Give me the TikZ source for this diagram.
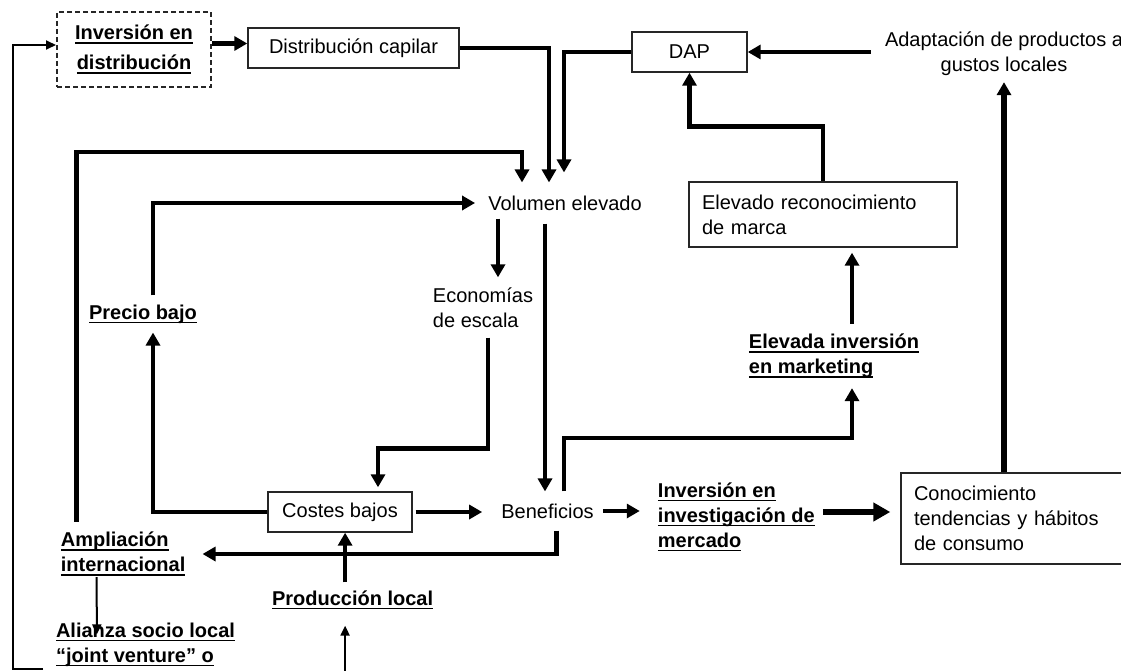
\documentclass[tikz,border=0pt]{standalone}
\usepackage{fontspec}
\setmainfont{Liberation Sans}
\usetikzlibrary{arrows.meta,calc}
% underline drawn as a rule just below the baseline
\newcommand\ulr[1]{\setbox0\hbox{#1}\rlap{\rule[-4.2pt]{\wd0}{1.8pt}}\box0}
\begin{document}
\begin{tikzpicture}[x=1pt,y=-1pt,
  every node/.style={font=\fontsize{20}{25}\selectfont, inner sep=0pt},
  bx/.style={draw=black!85, line width=1.4pt, inner sep=0pt},
  lbl/.style={align=left, font=\fontsize{20}{25}\selectfont\bfseries},
  arr/.style={line width=4.5pt, -{Triangle[length=13pt,width=14pt]}},
  thinarr/.style={line width=2pt, -{Triangle[length=10pt,width=9pt]}},
  bigarr/.style={line width=6.5pt, -{Triangle[length=17pt,width=18pt]}}]

\fill[white] (0,0) rectangle (1121,671);
\useasboundingbox (0,0) rectangle (1121,671);
\clip (0,0) rectangle (1121,671);

% ---- nodes ----
\node[bx, dash pattern=on 5pt off 3pt, line width=2pt, minimum width=154pt, minimum height=75pt,
      align=center, font=\fontsize{20}{25}\selectfont\bfseries] (invd) at (134,49.5)
      {\ulr{Inversión en}\\[5pt]\ulr{distribución}};
\node[bx, minimum width=211pt, minimum height=40pt] (dcap) at (353.5,48) {Distribución capilar};
\node[bx, minimum width=115pt, minimum height=40pt] (dap) at (689.5,52) {DAP};
\node[align=center, inner xsep=14pt, inner ysep=6pt] (adapt) at (1004,54)
      {Adaptación de productos a\\gustos locales};
\node[inner sep=13pt] (vol) at (565,203) {Volumen elevado};
\node[align=left, inner sep=10pt] (eco) at (483,307.5) {Economías\\de escala};
\node[bx, minimum width=144pt, minimum height=40pt] (cos) at (340,512) {Costes bajos};
\node[inner xsep=9pt, inner ysep=12pt] (ben) at (547.5,511) {Beneficios};
\node[lbl, inner xsep=8pt] (inv) at (736.3,517)
      {\ulr{Inversión en}\\\ulr{investigación de}\\\ulr{mercado}};
\node[bx, minimum width=234pt, minimum height=91pt, text width=208pt, align=left, inner xsep=13pt]
      (con) at (1018,518.5) {Conocimiento\\tendencias y hábitos\\de consumo};
\node[bx, minimum width=268pt, minimum height=65pt, text width=242pt, align=left, inner xsep=13pt]
      (elo) at (823,214.5) {Elevado reconocimiento\\de marca};
\node[lbl, inner ysep=10pt] (elv) at (834,356) {\ulr{Elevada inversión}\\\ulr{en marketing}};
\node[lbl, inner ysep=9pt] (prec) at (143,314) {\ulr{Precio bajo}};
\node[lbl, inner sep=10pt] (amp) at (123.1,554) {\ulr{Ampliación}\\\ulr{internacional}};
\node[lbl, inner ysep=8pt] (prod) at (352.6,600) {\ulr{Producción local}};
\node[lbl] (ali) at (145.5,644.5) {\ulr{Alianza socio local}\\\ulr{“joint venture” o}};

\coordinate (lbot) at (43,669);
\coordinate (pbot) at (345.1,680);

% ---- connectors ----
\draw[thinarr] (lbot) -- (13,669) |- ([yshift=4.5pt]invd.west);
\draw[arr] ([yshift=6pt]invd.east) -- ([yshift=6pt]invd.east -| dcap.west);
\draw[arr] (dcap.east) -| ([xshift=-16pt]vol.north);
\draw[arr] (dap.west) -| ([xshift=-1pt,yshift=10pt]vol.north);
\draw[arr] (adapt.west |- dap.east) -- (dap.east);
\draw[arr] (elo.north) -- ++(0,-55) -| (dap.south);
\draw[arr, shorten >=5pt] ([xshift=18pt]elv.north) -- ([xshift=18pt]elv.north |- elo.south);
\draw[arr] ([xshift=16.5pt]ben.north) |- ([xshift=18pt,yshift=-50pt]elv.south) -- ([xshift=18pt]elv.south);
\draw[arr, line width=5.5pt] (con.north -| adapt.south) -- (adapt.south);
\draw[bigarr, shorten >=10pt] ([yshift=5pt]inv.east) -- ([yshift=5pt]inv.east -| con.west);
\draw[arr, shorten >=10pt] (ben.east) -- (ben.east -| inv.west);
\draw[arr, shorten <=3pt, shorten >=10pt] (cos.east) -- (cos.east -| ben.west);
\draw[arr] ([xshift=-20pt]vol.south) -- ([xshift=-20pt]vol.south |- ben.north);
\draw[arr, shorten <=-5pt] ([xshift=15pt]eco.north |- vol.south) -- ([xshift=15pt]eco.north);
\draw[arr, shorten >=4pt] ([xshift=5pt]eco.south) -- ++(0,111) -| ([xshift=38pt]cos.north);
\draw[arr] (cos.west) -| ([xshift=10pt]prec.south);
\draw[arr] ([xshift=10pt]prec.north) |- (vol.west);
\draw[arr] ([xshift=26pt]amp.north west) -- ++(0,-370) -| ([xshift=-43pt]vol.north);
\draw[arr, shorten >=7pt] ([xshift=9pt]ben.south) |- (amp.east);
\draw[thinarr] ($(amp.south west)+(46,-9)$) -- ($(ali.north west)+(41,12)$);
\draw[arr] ([xshift=-7.5pt]prod.north) -- ([xshift=-7.5pt]prod.north |- cos.south);
\draw[thinarr] (pbot) -- ([xshift=-7.5pt,yshift=-8pt]prod.south);
\end{tikzpicture}
\end{document}
